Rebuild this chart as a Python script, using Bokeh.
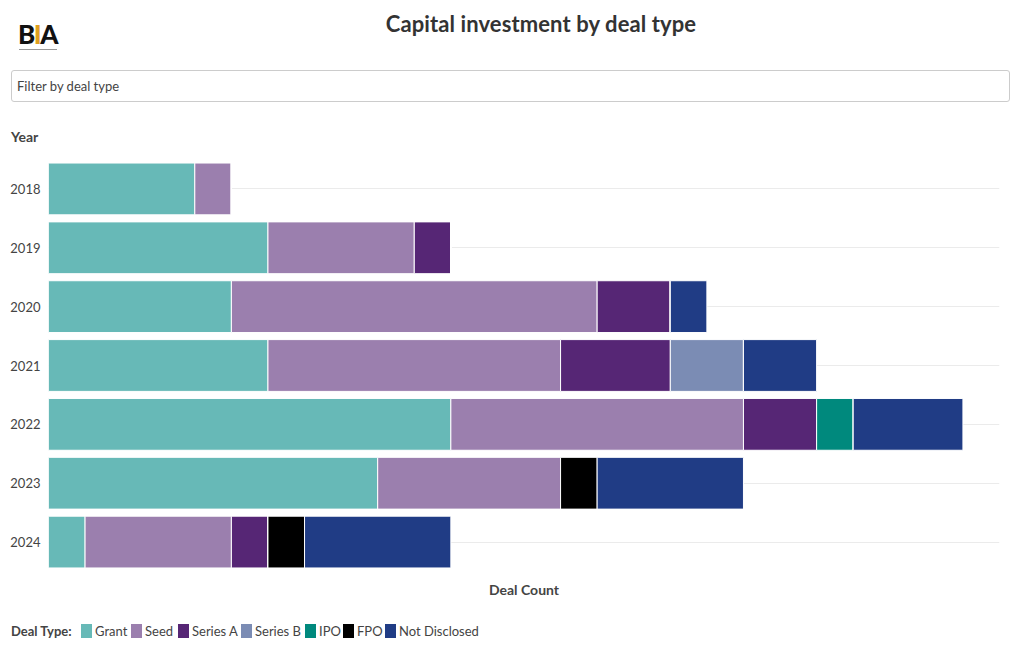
from bokeh.plotting import figure
from bokeh.models import FactorRange, Div
from bokeh.layouts import column
from bokeh.embed import file_html
from bokeh.resources import INLINE

years = ["2018", "2019", "2020", "2021", "2022", "2023", "2024"]
deal_types = ["Grant", "Seed", "Series A", "Series B", "IPO", "FPO", "Not Disclosed"]
grant = [4, 6, 5, 6, 11, 9, 1]
seed = [1, 4, 10, 8, 8, 5, 4]
series_a = [0, 1, 2, 3, 2, 0, 1]
series_b = [0, 0, 0, 2, 0, 0, 0]
ipo = [0, 0, 0, 0, 1, 0, 0]
fpo = [0, 0, 0, 0, 0, 1, 1]
not_disclosed = [0, 0, 1, 2, 3, 4, 4]
colors = ["#67b9b7", "#9b7fae", "#562675", "#7b8cb4", "#00897d", "#000000", "#203c85"]

FONT = "Lato, 'Source Sans Pro', sans-serif"

data = {"year": years}
for name, vals in zip(deal_types, [grant, seed, series_a, series_b, ipo, fpo, not_disclosed]):
    data[name] = vals

p = figure(width=1004, height=419, output_backend="svg", toolbar_location=None,
           y_range=FactorRange(factors=list(reversed(years)), range_padding=0),
           x_range=(0, 26),
           min_border_top=5, min_border_bottom=2, min_border_left=48, min_border_right=5)
p.hbar_stack(deal_types, y="year", height=0.88, color=colors, source=data,
             line_color="white", line_width=1)

p.outline_line_color = None
p.xaxis.visible = False
p.xgrid.grid_line_color = None
p.ygrid.grid_line_color = "#ebebeb"
p.yaxis.axis_line_color = None
p.yaxis.major_tick_line_color = None
p.yaxis.minor_tick_line_color = None
p.yaxis.major_tick_out = 0
p.yaxis.major_tick_in = 0
p.yaxis.major_label_text_font = "Lato"
p.yaxis.major_label_text_font_size = "13px"
p.yaxis.major_label_text_color = "#444444"
p.yaxis.major_label_standoff = 8
p.background_fill_color = "white"

# header element positions are page coordinates minus the div origin (5, 5)
header = Div(width=1004, height=144, text=f"""
<div style="position:relative;width:1004px;height:144px;font-family:{FONT};">
  <div style="position:absolute;left:13px;top:14px;font-size:26px;font-weight:900;color:#111;letter-spacing:-1.5px;line-height:30px;">B<span style="color:#e0a020;">I</span>A</div>
  <div style="position:absolute;left:14px;top:44px;width:38px;height:1px;background:#999;"></div>
  <div style="position:absolute;left:236px;top:6px;width:600px;text-align:center;font-size:22px;font-weight:bold;color:#333;line-height:26px;letter-spacing:0.1px;">Capital investment by deal type</div>
  <div style="position:absolute;left:6px;top:65px;width:999px;height:32px;box-sizing:border-box;border:1px solid #cccccc;border-radius:3px;padding-left:5px;font-size:13px;line-height:30px;color:#444;">Filter by deal type</div>
  <div style="position:absolute;left:6px;top:123px;font-size:14px;font-weight:bold;color:#444;line-height:18px;">Year</div>
</div>
""")

tx_x = [95, 145, 192, 255, 319, 357, 399]
items = ""
for name, c, tx in zip(deal_types, colors, tx_x):
    items += f'<div style="position:absolute;left:{tx-14-5}px;top:46px;width:11px;height:14px;background:{c};"></div>'
    items += f'<div style="position:absolute;left:{tx-5}px;top:44px;font-size:13px;line-height:18px;color:#444;white-space:nowrap;">{name}</div>'

footer = Div(width=1004, height=64, text=f"""
<div style="position:relative;width:1004px;height:64px;font-family:{FONT};">
  <div style="position:absolute;left:419px;top:3px;width:200px;text-align:center;font-size:14px;font-weight:bold;color:#444;line-height:18px;">Deal Count</div>
  <div style="position:absolute;left:6px;top:44px;font-size:13px;font-weight:bold;color:#444;line-height:18px;">Deal Type:</div>
  {items}
</div>
""")

layout = column(header, p, footer, spacing=0)
open("out.html", "w").write(file_html(layout, INLINE))
